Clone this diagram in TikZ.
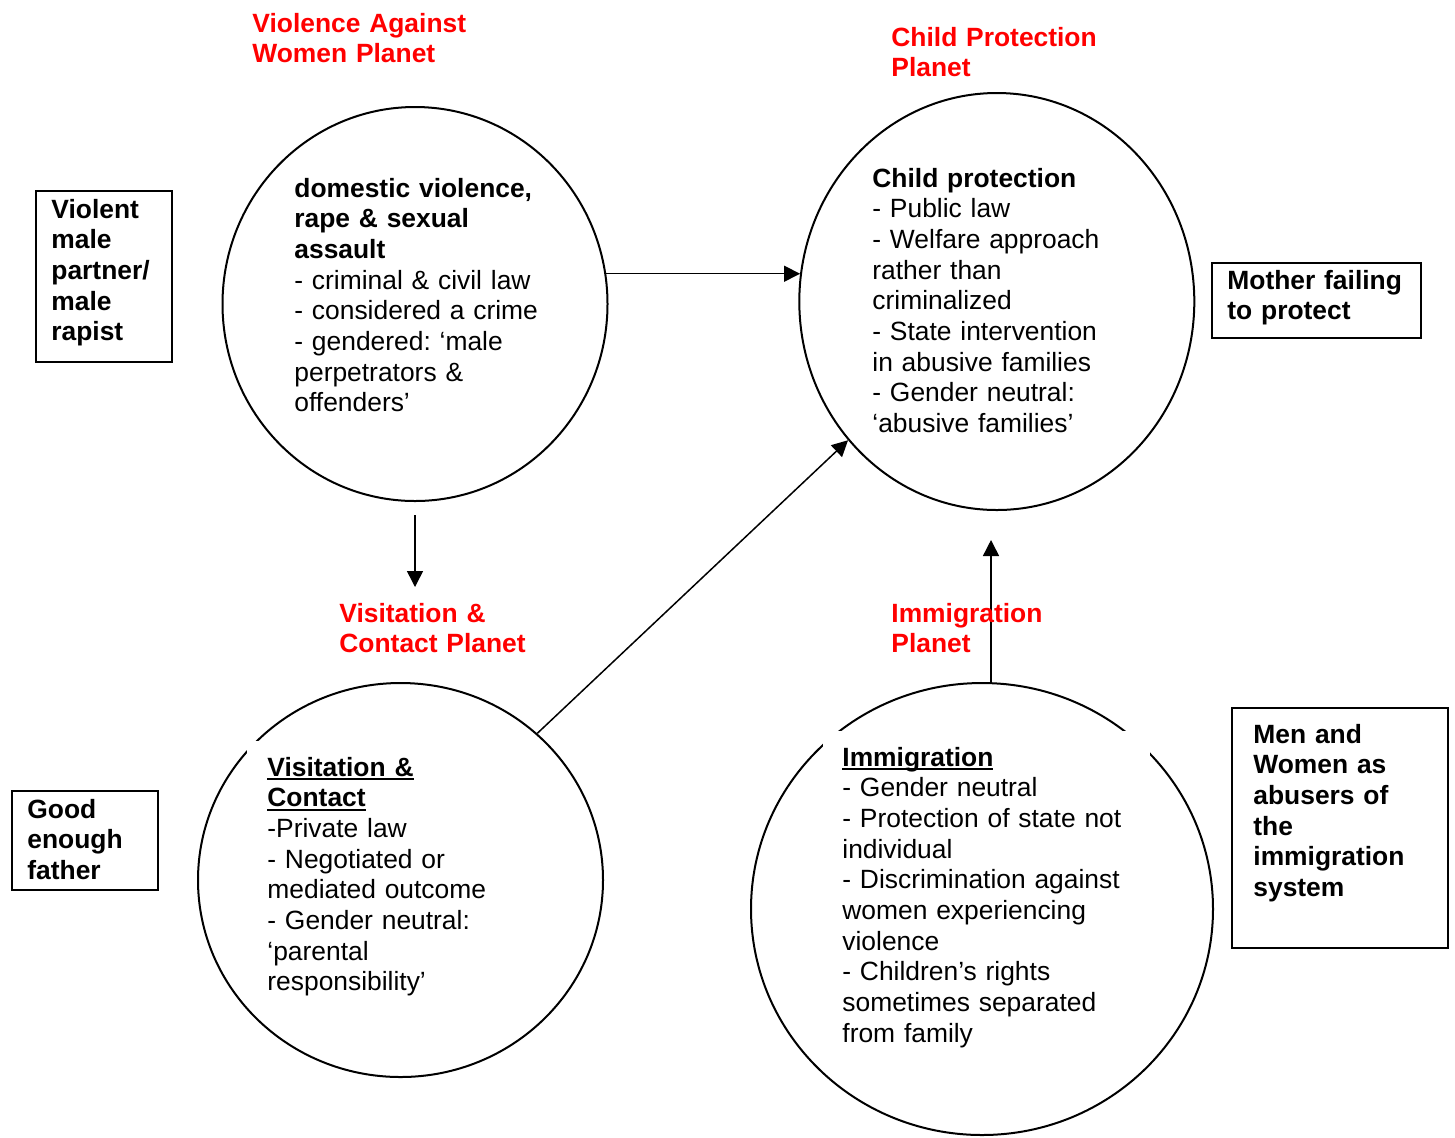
\documentclass[tikz,border=0pt]{standalone}
\usepackage{fontspec}
\setmainfont{Liberation Sans}
\usetikzlibrary{shapes.geometric,arrows.meta}
\newsavebox\myulbox
\newcommand\myul[1]{\leavevmode\sbox\myulbox{#1}\rlap{\rule[-1.9pt]{\wd\myulbox}{0.9pt}}\usebox\myulbox}
\frenchspacing
\begin{document}
\begin{tikzpicture}[x=0.5pt,y=-0.5pt,
  planet/.style={draw, ellipse, inner sep=0pt, line width=1pt},
  framebox/.style={draw, rectangle, line width=1pt, inner sep=0pt, anchor=north west},
  txt/.style={anchor=base west, inner sep=0pt, align=left, text width=320pt,
    font=\fontsize{13.2pt}{15.35pt}\selectfont\frenchspacing},
  boldtxt/.style={txt, font=\fontsize{13.2pt}{15.35pt}\selectfont\bfseries\frenchspacing},
  redlbl/.style={boldtxt, text=red},
  conn/.style={-{Triangle[length=8pt,width=8pt]}, line width=0.75pt}]
\useasboundingbox (0,0) rectangle (1455,1137);

% planets
\node[planet, minimum width=192.5pt, minimum height=197pt] (dv) at (415,304) {};
\node[planet, minimum width=197.5pt, minimum height=208.5pt] (cp) at (996.8,301.5) {};
\node[planet, minimum width=202.5pt, minimum height=197pt] (vc) at (400.5,880) {};
\node[planet, minimum width=231pt, minimum height=226pt] (im) at (982,909) {};

% text areas covering parts of the circles
\fill[white] (247,741) rectangle (520,1000);
\fill[white] (823,731) rectangle (1150,1063);

% connectors
\coordinate (dvout) at (415,515);
\coordinate (vcin) at (415,587);
\coordinate (cpin) at (991,540);
\draw[conn] (dv.9.4) -- (dv.9.4 -| cp.172.3);
\draw[conn] (dvout) -- (vcin);
\draw[conn] (vc.47.8) -- (cp.223.7);
\draw[conn] (cpin |- im.north) -- (cpin);

% red planet titles
\node[redlbl] (tvaw) at (252,32) {Violence Against\\Women Planet};
\node[redlbl] (tcp) at (891,46) {Child Protection\\Planet};
\node[redlbl] (tvc) at (339,622) {Visitation \&\\Contact Planet};
\node[redlbl] (tim) at (891,622) {Immigration\\Planet};

% planet contents
\node[txt] (xdv) at (294,197) {{\bfseries domestic violence,\\rape \& sexual\\assault}\\- criminal \& civil law\\- considered a crime\\- gendered: ‘male\\perpetrators \&\\offenders’};
\node[txt] (xcp) at (872,187) {{\bfseries Child protection}\\- Public law\\- Welfare approach\\rather than\\criminalized\\- State intervention\\in abusive families\\- Gender neutral:\\‘abusive families’};
\node[txt] (xvc) at (267,776) {\myul{\bfseries Visitation \&}\\\myul{\bfseries Contact}\\-Private law\\- Negotiated or\\mediated outcome\\- Gender neutral:\\‘parental\\responsibility’};
\node[txt] (xim) at (842,766) {\myul{\bfseries Immigration}\\- Gender neutral\\- Protection of state not\\individual\\- Discrimination against\\women experiencing\\violence\\- Children’s rights\\sometimes separated\\from family};

% side boxes
\node[framebox, minimum width=68pt, minimum height=85.5pt] (bviol) at (35,190) {};
\node[boldtxt] (tviol) at (51,218) {Violent\\male\\partner/\\male\\rapist};
\node[framebox, minimum width=104.5pt, minimum height=37.5pt] (bmoth) at (1211,262) {};
\node[boldtxt] (tmoth) at (1227,289) {Mother failing\\to protect};
\node[framebox, minimum width=73pt, minimum height=49.5pt] (bgood) at (11,790) {};
\node[boldtxt] (tgood) at (27,818) {Good\\enough\\father};
\node[framebox, minimum width=108pt, minimum height=120pt] (bmen) at (1231,707) {};
\node[boldtxt] (tmen) at (1253,743) {Men and\\Women as\\abusers of\\the\\immigration\\system};
\end{tikzpicture}
\end{document}
